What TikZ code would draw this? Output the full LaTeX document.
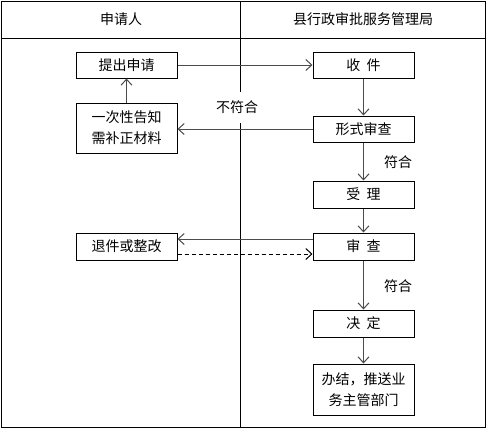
\documentclass[tikz,border=0pt]{standalone}
\usepackage{fontspec}
\setmainfont{Noto Sans CJK SC}
\usetikzlibrary{arrows.meta}
\begin{document}
\begin{tikzpicture}[x=1pt,y=-1pt,
  box/.style={draw,line width=1pt,minimum width=101pt,minimum height=26pt,inner sep=0pt,
    font=\fontsize{14}{21}\selectfont,align=center},
  arr/.style={line width=1pt,draw=black!70,-{Straight Barb[length=6pt,width=11pt]}},
  lbl/.style={font=\fontsize{14}{16}\selectfont,inner sep=1pt}]
\useasboundingbox (0,0) rectangle (489,429);
\draw[line width=1pt] (1.5,1.5) rectangle (485.5,427);
\draw[line width=1pt] (1.5,38) -- (485.5,38);
\draw[line width=1pt] (240,1.5) -- (240,427);
\node[lbl] (h1) at (121,19) {申请人};
\node[lbl] (h2) at (363,19) {县行政审批服务管理局};

\node[box] (tc) at (126.5,65) {提出申请};
\node[box] (sj) at (363.5,65) {收\hspace{0.45em}件};
\node[box,minimum height=50pt] (yc) at (126.5,128) {一次性告知\\需补正材料};
\node[box] (xs) at (363.5,129) {形式审查};
\node[box,minimum height=27pt] (sl) at (363.5,194.5) {受\hspace{0.45em}理};
\node[box,minimum height=27pt] (sc) at (363.5,246.5) {审\hspace{0.45em}查};
\node[box,minimum height=27pt] (tj) at (126.5,246.5) {退件或整改};
\node[box,minimum height=27pt] (jd) at (363.5,323.5) {决\hspace{0.45em}定};
\node[box,minimum height=51pt] (bj) at (363.5,389.5) {办结，推送业\\务主管部门};

\node[lbl,fill=white,minimum height=31pt,inner xsep=3pt] (bf) at (237,107) {不符合};
\node[lbl] (f1) at (398,162) {符合};
\node[lbl] (f2) at (398,286) {符合};

\draw[arr] (tc.east) -- (sj.west);
\draw[arr] (sj.south) -- (xs.north);
\draw[arr] (xs.west) -- (xs.west -| yc.east);
\draw[arr] (yc.north) -- (tc.south);
\draw[arr] (xs.south) -- (sl.north);
\draw[arr] (sl.south) -- (sc.north);
\draw[arr] ([yshift=7.5pt]sc.west) -- ([yshift=7.5pt]tj.east);
\draw[arr,draw=black,dash pattern=on 4pt off 3pt] ([yshift=-7.5pt]tj.east) -- ([yshift=-7.5pt]sc.west);
\draw[arr] (sc.south) -- (jd.north);
\draw[arr] (jd.south) -- (bj.north);
\end{tikzpicture}
\end{document}
